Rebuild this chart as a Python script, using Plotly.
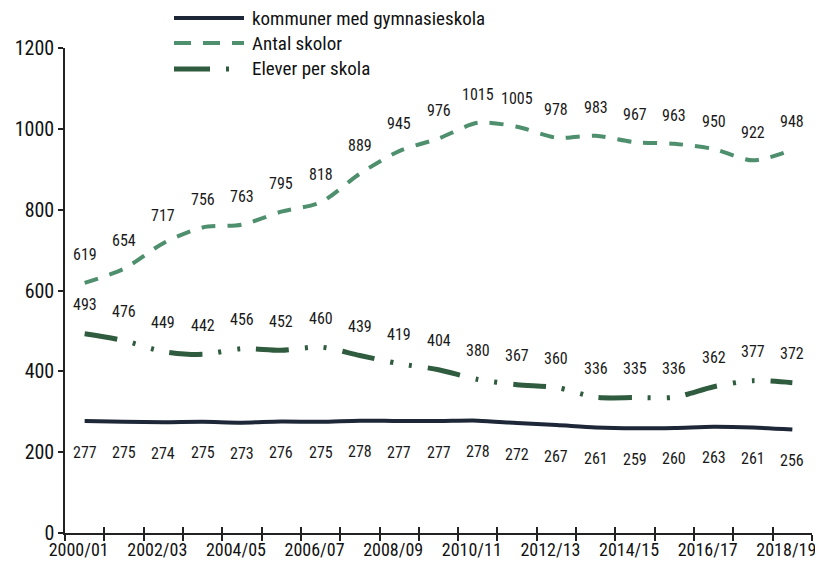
import plotly.graph_objects as go

years = ["2000/01", "2001/02", "2002/03", "2003/04", "2004/05", "2005/06", "2006/07",
         "2007/08", "2008/09", "2009/10", "2010/11", "2011/12", "2012/13", "2013/14",
         "2014/15", "2015/16", "2016/17", "2017/18", "2018/19"]
antal_skolor = [619, 654, 717, 756, 763, 795, 818, 889, 945, 976, 1015, 1005, 978, 983,
                967, 963, 950, 922, 948]
elever_per_skola = [493, 476, 449, 442, 456, 452, 460, 439, 419, 404, 380, 367, 360, 336,
                    335, 336, 362, 377, 372]
kommuner = [277, 275, 274, 275, 273, 276, 275, 278, 277, 277, 278, 272, 267, 261, 259,
            260, 263, 261, 256]
y_ticks = [0, 200, 400, 600, 800, 1000, 1200]

FONT = "Roboto Condensed, Liberation Sans Narrow, sans-serif"
C_ANTAL = "#4e8f6d"
C_ELEV = "#2f5c3e"
C_KOMM = "#1d2738"

# page body has an 8px margin, so the figure is 8px smaller than the window
OFF = 8
W, H = 823 - OFF, 568 - OFF
L, R, T, B = 57, 11, 40, 35
PW, PH = W - L - R, H - T - B

xs = list(range(len(years)))
fig = go.Figure()
fig.add_trace(go.Scatter(x=xs, y=kommuner, mode="lines", name="kommuner med gymnasieskola",
                         line=dict(color=C_KOMM, width=4, shape="spline", smoothing=0.8),
                         showlegend=False))
fig.add_trace(go.Scatter(x=xs, y=antal_skolor, mode="lines", name="Antal skolor",
                         line=dict(color=C_ANTAL, width=4, shape="spline", smoothing=0.8,
                                   dash="14px,12px"),
                         showlegend=False))
fig.add_trace(go.Scatter(x=xs, y=elever_per_skola, mode="lines", name="Elever per skola",
                         line=dict(color=C_ELEV, width=5, shape="spline", smoothing=0.8,
                                   dash="33px,16px,3px,16px,3px,16px"),
                         showlegend=False))

ann = []
for i in xs:
    ann.append(dict(x=i, y=antal_skolor[i], text=str(antal_skolor[i]), yshift=28))
    ann.append(dict(x=i, y=elever_per_skola[i], text=str(elever_per_skola[i]), yshift=29))
    ann.append(dict(x=i, y=kommuner[i], text=str(kommuner[i]), yshift=-31))
for a in ann:
    a.update(showarrow=False, xref="x", yref="y", font=dict(family=FONT, size=16, color="#1a1a1a"))

# manual legend (page pixel positions -> paper coordinates)
def px_x(p):
    return (p - OFF - L) / PW

def px_y(p):
    return (H - B - (p - OFF)) / PH

legend_items = [("kommuner med gymnasieskola", C_KOMM, 4, "solid", 18),
                ("Antal skolor", C_ANTAL, 4, "17px,12px", 43),
                ("Elever per skola", C_ELEV, 5, "36px,16px,3px,30px", 69)]
shapes = []
for name, col, wd, dsh, yp in legend_items:
    shapes.append(dict(type="line", xref="paper", yref="paper",
                       x0=px_x(174), x1=px_x(244), y0=px_y(yp), y1=px_y(yp),
                       line=dict(color=col, width=wd, dash=dsh)))
    ann.append(dict(x=px_x(250), y=px_y(yp), xref="paper", yref="paper", text=name,
                    showarrow=False, xanchor="left", yanchor="middle",
                    font=dict(family=FONT, size=19, color="#111")))

boundaries = [i - 0.5 for i in range(len(years) + 1)]
fig.update_layout(
    width=W, height=H, margin=dict(l=L, r=R, t=T, b=B, autoexpand=False),
    paper_bgcolor="white", plot_bgcolor="white", showlegend=False,
    font=dict(family=FONT, size=20, color="#111"),
    annotations=ann, shapes=shapes,
    xaxis=dict(range=[-0.5, len(years) - 0.5], tickvals=xs[::2], ticktext=years[::2],
               ticks="", showgrid=False, zeroline=False, showline=True, automargin=False,
               ticklabeloverflow="allow", ticklabelshift=-6,
               linecolor="#222", linewidth=1.5, tickfont=dict(size=18),
               minor=dict(tickvals=boundaries, ticks="outside", ticklen=6,
                          tickcolor="#222", tickwidth=1.5, showgrid=False)),
    xaxis2=dict(overlaying="x", anchor="y", side="bottom", matches="x", automargin=False,
                range=[-0.5, len(years) - 0.5], tickvals=boundaries, ticks="inside",
                ticklen=6, tickcolor="#222", tickwidth=1.5, showticklabels=False,
                showgrid=False, zeroline=False, showline=False),
    yaxis=dict(range=[0, 1200], tickvals=y_ticks, ticks="outside", ticklen=5,
               automargin=False,
               tickcolor="#222", tickwidth=1.5, showgrid=False, zeroline=False,
               showline=True, linecolor="#222", linewidth=1.5, tickfont=dict(size=20)),
)
fig.add_trace(go.Scatter(x=[None], y=[None], xaxis="x2", yaxis="y", showlegend=False,
                         hoverinfo="skip"))
fig.write_html("out.html")
